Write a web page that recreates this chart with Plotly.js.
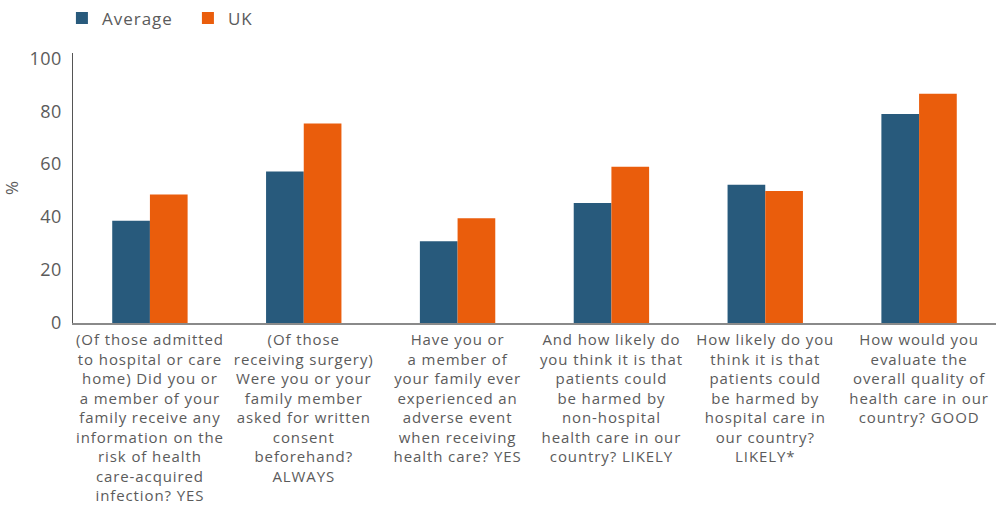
<!DOCTYPE html>
<html>
<head>
<meta charset="utf-8">
<script src="https://cdn.plot.ly/plotly-3.0.1.min.js"></script>
<style>
html,body{margin:0;padding:0;background:#fff;}
#chart{width:996px;height:505px;}
#chart .xtick text{letter-spacing:0.9px;}
#chart .legendtext{letter-spacing:1px;}
#chart .ytick text{letter-spacing:0.5px;}
</style>
</head>
<body>
<div id="chart"></div>
<script>
const categories = [
  "(Of those admitted<br>to hospital or care<br>home) Did you or<br>a member of your<br>family receive any<br>information on the<br>risk of health<br>care-acquired<br>infection? YES",
  "(Of those<br>receiving surgery)<br>Were you or your<br>family member<br>asked for written<br>consent<br>beforehand?<br>ALWAYS",
  "Have you or<br>a member of<br>your family ever<br>experienced an<br>adverse event<br>when receiving<br>health care? YES",
  "And how likely do<br>you think it is that<br>patients could<br>be harmed by<br>non-hospital<br>health care in our<br>country? LIKELY",
  "How likely do you<br>think it is that<br>patients could<br>be harmed by<br>hospital care in<br>our country?<br>LIKELY*",
  "How would you<br>evaluate the<br>overall quality of<br>health care in our<br>country? GOOD"
];
const averageValues = [38.6, 57.2, 30.9, 45.3, 52.2, 79.0];
const ukValues = [48.5, 75.4, 39.6, 59.0, 49.9, 86.6];
const seriesNames = ["Average", "UK"];
const yTicks = [0, 20, 40, 60, 80, 100];

const FONT = "Open Sans, DejaVu Sans, sans-serif";
const GRAY = "#5b5b5b";

const traces = [
  {type: "bar", name: seriesNames[0], x: categories, y: averageValues,
   marker: {color: "#285a7c"}, hoverinfo: "y"},
  {type: "bar", name: seriesNames[1], x: categories, y: ukValues,
   marker: {color: "#ea5d0c"}, hoverinfo: "y"}
];

const layout = {
  width: 996, height: 505,
  margin: {l: 73, r: 0, t: 53, b: 182},
  paper_bgcolor: "#fff", plot_bgcolor: "#fff",
  font: {family: FONT, color: GRAY},
  barmode: "group",
  bargap: 0.51, bargroupgap: 0,
  showlegend: true,
  legend: {orientation: "h", x: -0.012, y: 0.999, yref: "container", yanchor: "top", xanchor: "left",
           font: {size: 17, color: GRAY}, itemwidth: 30, traceorder: "normal",
           entrywidth: 81, entrywidthmode: "pixels"},
  xaxis: {type: "category", showgrid: false, zeroline: false, showline: true,
          linecolor: "#8a8a8a", linewidth: 2, ticks: "", ticklabelstandoff: 2,
          tickangle: 0, tickfont: {size: 15, color: GRAY}, automargin: false},
  yaxis: {range: [0, 102], tickvals: yTicks, ticktext: yTicks.map(String),
          showgrid: false, zeroline: false, showline: true, linecolor: "#555",
          linewidth: 1.5, ticks: "", ticklabelstandoff: 6,
          tickfont: {size: 18, color: GRAY},
          title: {text: "%", font: {size: 17, color: GRAY}, standoff: 8}, automargin: false}
};

Plotly.newPlot("chart", traces, layout, {displayModeBar: false, staticPlot: true});
</script>
</body>
</html>
